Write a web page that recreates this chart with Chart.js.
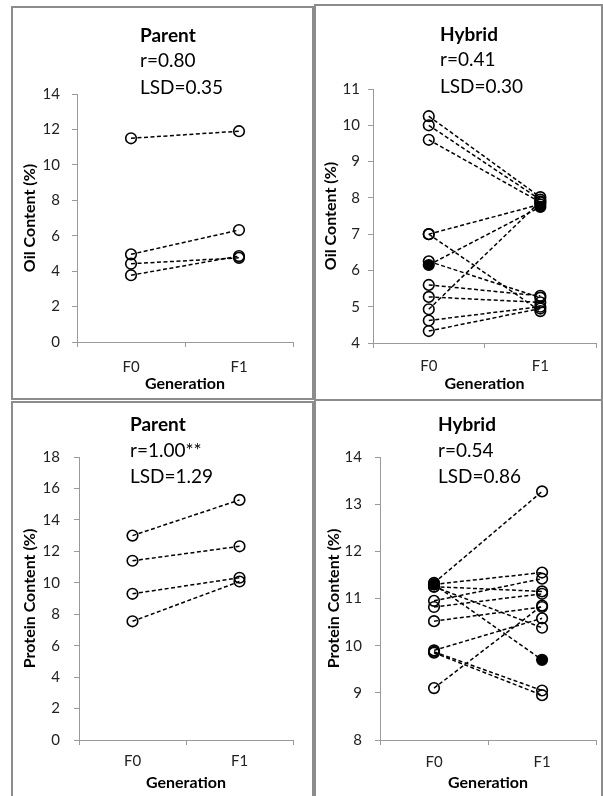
<!DOCTYPE html>
<html>
<head>
<meta charset="utf-8">
<script src="https://cdn.jsdelivr.net/npm/chart.js@4.4.1/dist/chart.umd.min.js"></script>
<style>
html,body{margin:0;padding:0;background:#fff;}
#page{position:relative;width:603px;height:796px;overflow:hidden;background:#fff;}
.frame{position:absolute;border:2px solid #8c8c8c;box-sizing:border-box;}
canvas{position:absolute;}
</style>
</head>
<body>
<div id="page">
  <div class="frame" style="left:11px;top:6px;width:303px;height:394px"></div>
  <div class="frame" style="left:314px;top:4px;width:289px;height:397px"></div>
  <div class="frame" style="left:11px;top:401px;width:303px;height:400px"></div>
  <div class="frame" style="left:314px;top:399px;width:289px;height:402px"></div>
  <canvas id="c0" width="313" height="400" style="left:0;top:0"></canvas>
  <canvas id="c1" width="290" height="400" style="left:313px;top:0"></canvas>
  <canvas id="c2" width="313" height="396" style="left:0;top:400px"></canvas>
  <canvas id="c3" width="290" height="396" style="left:313px;top:400px"></canvas>
</div>
<script>
// ---------- data ----------
const generations = ['F0', 'F1'];

const parentOilF0 = [11.5, 4.95, 4.42, 3.77];
const parentOilF1 = [11.9, 6.32, 4.75, 4.85];

const hybridOilF0 = [10.25, 10.0, 9.6, 7.0, 7.0, 6.25, 5.6, 5.27, 4.93, 4.62, 4.33];
const hybridOilF1 = [8.02, 7.95, 7.88, 7.82, 4.88, 5.25, 5.3, 5.12, 7.9, 5.0, 4.95];
const hybridOilMarked = [6.15, 7.75];

const parentProteinF0 = [13.0, 11.4, 9.3, 7.55];
const parentProteinF1 = [15.27, 12.32, 10.32, 10.08];

const hybridProteinF0 = [11.33, 11.3, 11.25, 11.25, 10.95, 10.82, 10.52, 9.9, 9.87, 9.85, 9.1];
const hybridProteinF1 = [13.27, 11.55, 11.15, 10.38, 11.42, 11.1, 10.82, 10.58, 9.05, 8.95, 10.85];
const hybridProteinMarked = [11.3, 9.7];

const parentOilTicks = [0, 2, 4, 6, 8, 10, 12, 14];
const hybridOilTicks = [4, 5, 6, 7, 8, 9, 10, 11];
const parentProteinTicks = [0, 2, 4, 6, 8, 10, 12, 14, 16, 18];
const hybridProteinTicks = [8, 9, 10, 11, 12, 13, 14];

const panelTitles = ['Parent', 'Hybrid', 'Parent', 'Hybrid'];
const panelStats = [['r=0.80', 'LSD=0.35'], ['r=0.41', 'LSD=0.30'], ['r=1.00**', 'LSD=1.29'], ['r=0.54', 'LSD=0.86']];
const yTitles = ['Oil Content (%)', 'Oil Content (%)', 'Protein Content (%)', 'Protein Content (%)'];
const xTitle = 'Generation';

// ---------- helpers ----------
const FONT = 'Lato';

const blockTitle = {
  id: 'blockTitle',
  afterDraw(chart, args, o) {
    const ctx = chart.ctx;
    ctx.save();
    ctx.fillStyle = '#000';
    ctx.textAlign = 'left';
    ctx.textBaseline = 'alphabetic';
    ctx.font = 'bold 19px ' + FONT;
    ctx.fillText(o.title, o.x, o.y[0]);
    ctx.font = '19px ' + FONT;
    o.lines.forEach((t, i) => ctx.fillText(t, o.x, o.y[i + 1]));
    ctx.restore();
  }
};

function pairs(f0, f1) {
  return f0.map((v, i) => ({
    data: [v, f1[i]],
    borderColor: '#000',
    borderWidth: 1.5,
    borderDash: [4, 2.5],
    pointRadius: 5.3,
    pointBorderWidth: 1.6,
    pointBorderColor: '#000',
    pointBackgroundColor: 'rgba(0,0,0,0)',
    tension: 0,
    fill: false
  }));
}

function marked(vals) {
  return {
    data: vals,
    borderColor: '#000',
    borderWidth: 1.5,
    borderDash: [4, 2.5],
    pointRadius: 5.3,
    pointBorderWidth: 1.6,
    pointBorderColor: '#000',
    pointBackgroundColor: '#000',
    tension: 0,
    fill: false
  };
}

function makeChart(id, idx, datasets, ticks, L) {
  const axisColor = '#9a9a9a';
  new Chart(document.getElementById(id), {
    type: 'line',
    data: { labels: generations, datasets: datasets },
    options: {
      responsive: false,
      animation: false,
      events: [],
      layout: { padding: { top: L.top, right: L.right, left: 0, bottom: 0 } },
      plugins: {
        legend: { display: false },
        title: { display: false },
        tooltip: { enabled: false },
        blockTitle: { title: panelTitles[idx], lines: panelStats[idx], x: L.tx, y: L.ty }
      },
      scales: {
        x: {
          type: 'category',
          offset: true,
          afterFit: s => { s.height = L.xh; },
          grid: { display: true, drawOnChartArea: false, drawTicks: true, tickLength: 5, color: axisColor, offset: true },
          border: { display: true, color: axisColor, width: 1 },
          ticks: { color: '#222', font: { family: FONT, size: 15 }, padding: L.xp },
          title: { display: true, text: xTitle, color: '#000', font: { family: FONT, size: 16, weight: 'bold' }, padding: { top: 0, bottom: L.xtp } }
        },
        y: {
          type: 'linear',
          min: ticks[0],
          max: ticks[ticks.length - 1],
          afterFit: s => { s.width = L.left; },
          grid: { display: true, drawOnChartArea: false, drawTicks: true, tickLength: 5, color: axisColor },
          border: { display: true, color: axisColor, width: 1 },
          ticks: { stepSize: ticks[1] - ticks[0], color: '#222', font: { family: FONT, size: 15 }, padding: L.yp },
          title: { display: true, text: yTitles[idx], color: '#000', font: { family: FONT, size: 16, weight: 'bold' }, padding: { top: L.ytp, bottom: 0 } }
        }
      }
    },
    plugins: [blockTitle]
  });
}

makeChart('c0', 0, pairs(parentOilF0, parentOilF1), parentOilTicks,
  { top: 94, right: 20, left: 77, xh: 58, xp: 11, xtp: 7, yp: 12, ytp: 20.4, tx: 140, ty: [41.7, 66.7, 93.5] });

makeChart('c1', 1, [marked(hybridOilMarked)].concat(pairs(hybridOilF0, hybridOilF1)), hybridOilTicks,
  { top: 89, right: 6, left: 60, xh: 57, xp: 9, xtp: 6.5, yp: 8, ytp: 8.4, tx: 127, ty: [41, 66, 93] });

makeChart('c2', 2, pairs(parentProteinF0, parentProteinF1), parentProteinTicks,
  { top: 57, right: 20, left: 79, xh: 56, xp: 7, xtp: 4, yp: 14, ytp: 20.4, tx: 130, ty: [31, 56.7, 83.3] });

makeChart('c3', 3, [marked(hybridProteinMarked)].concat(pairs(hybridProteinF0, hybridProteinF1)), hybridProteinTicks,
  { top: 57, right: 6, left: 67, xh: 56, xp: 8, xtp: 4, yp: 13, ytp: 11.4, tx: 125, ty: [31, 57, 83.3] });
</script>
</body>
</html>
